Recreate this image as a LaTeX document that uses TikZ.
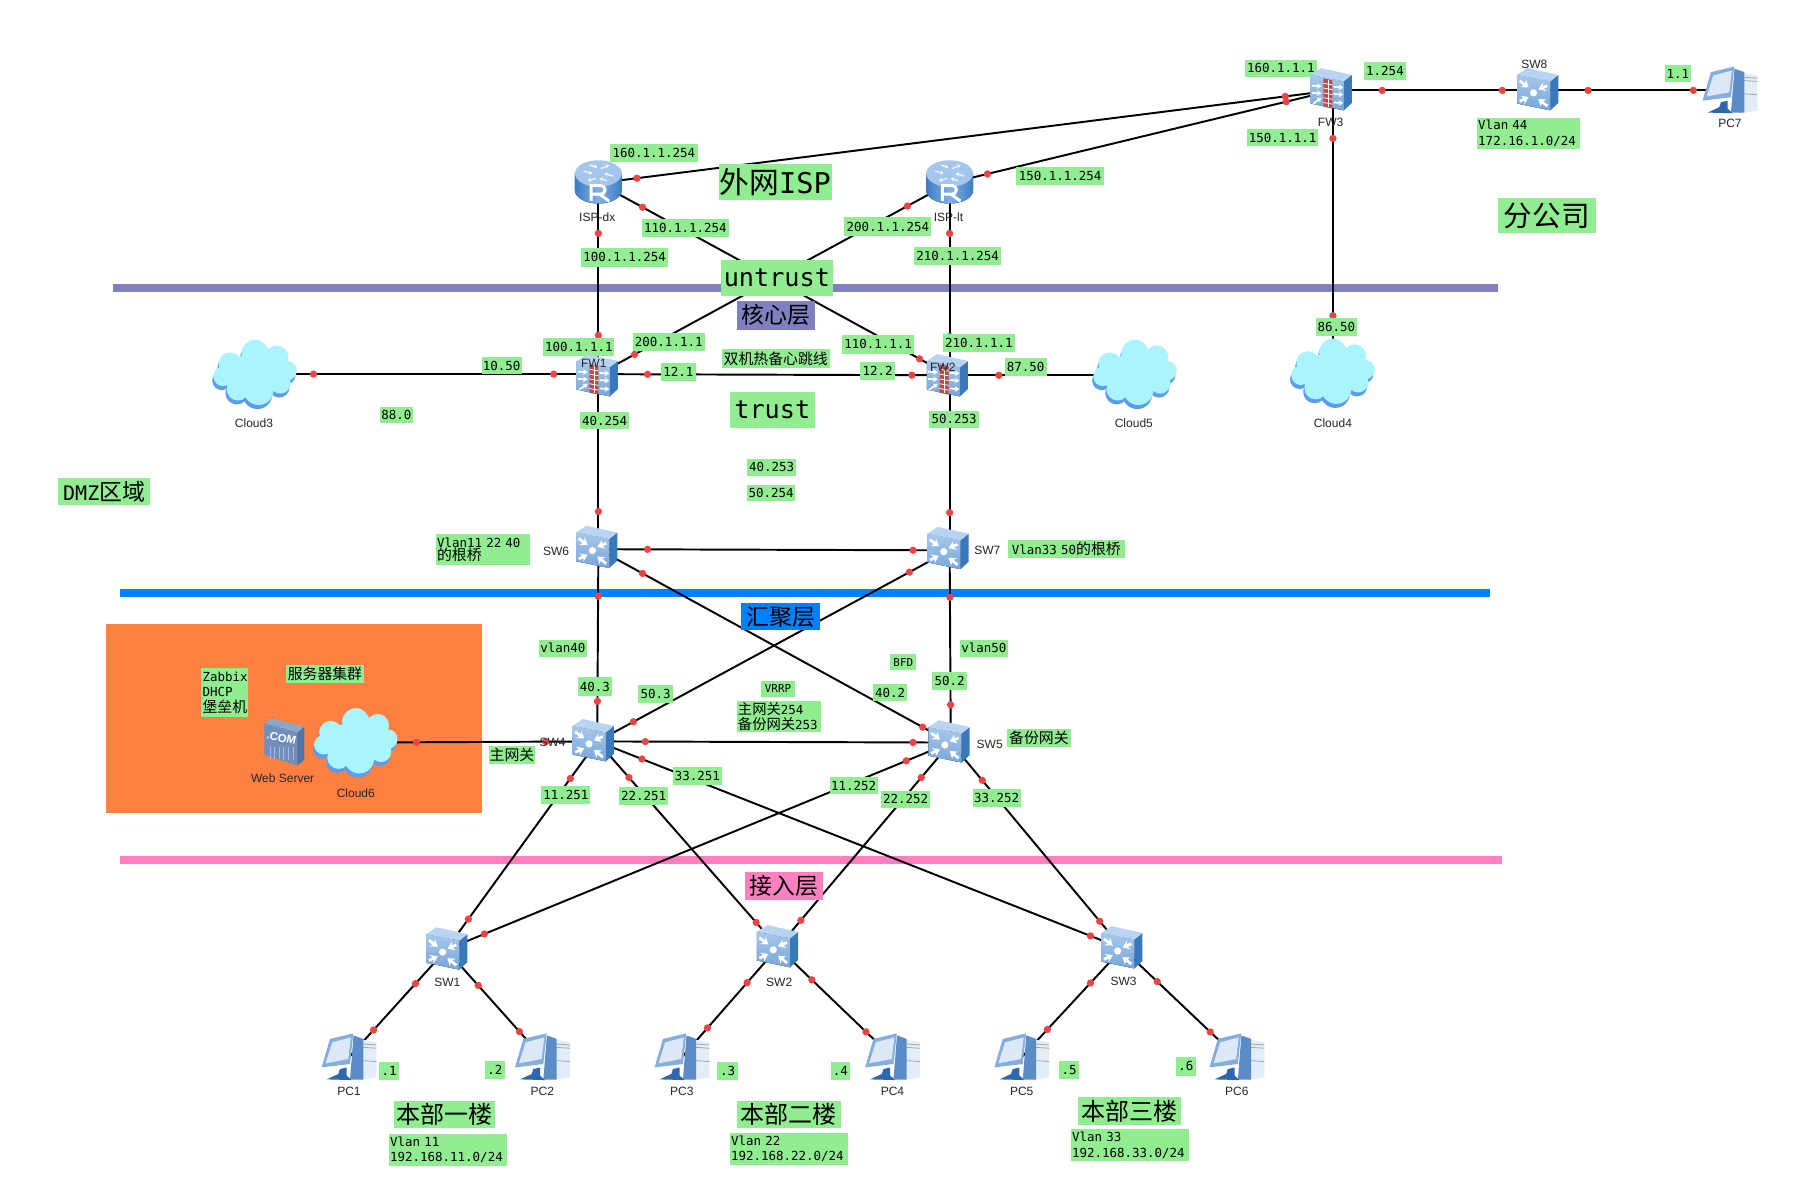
\documentclass[tikz,border=0pt]{standalone}
\usepackage{fontspec}
\setmainfont{Liberation Sans}
\newfontfamily\cjk{Noto Sans CJK SC}
\newfontfamily\monof{DejaVu Sans Mono}
\usetikzlibrary{calc,arrows.meta}
\definecolor{lgreen}{HTML}{90EE90}
\definecolor{dotred}{HTML}{EE4444}
\definecolor{barp}{HTML}{8080C0}
\definecolor{barb}{HTML}{0080FF}
\definecolor{barr}{HTML}{FF80C0}
\definecolor{orbg}{HTML}{FF8040}
\definecolor{frontA}{HTML}{A6C8EC}
\definecolor{frontB}{HTML}{7AA6DA}
\definecolor{sideC}{HTML}{3A78BC}
\definecolor{topC}{HTML}{B8D4F2}
\definecolor{rtmid}{HTML}{80B0E6}
\definecolor{rtedge}{HTML}{3F7CC4}
\definecolor{rttop}{HTML}{A4C6EC}
\definecolor{pcframe}{HTML}{86AEDC}
\definecolor{pcscreen}{HTML}{DCE8F8}
\definecolor{pcdark}{HTML}{5C8CC8}
\definecolor{pclight}{HTML}{E2EDF9}
\definecolor{pcfoot}{HTML}{2F66B0}
\definecolor{cloudc}{HTML}{A8F4FF}
\definecolor{clouds}{HTML}{5C9CEC}
\definecolor{brick}{HTML}{C04848}
\definecolor{webf}{HTML}{6F8FB8}
\definecolor{webs}{HTML}{4D76A8}
\definecolor{webt}{HTML}{8AA6C8}
\tikzset{
  dev/.style={inner sep=0pt,minimum size=34pt,outer sep=0pt},
  linkline/.style={line width=1.7pt,black},
  dotn/.style={circle,fill=dotred,inner sep=0pt,minimum size=6.4pt},
  glab/.style={fill=lgreen,inner sep=0pt,font=\monof\fontsize{10.9}{13.5}\selectfont,align=left},
  devlab/.style={inner sep=0pt,font=\fontsize{10.5}{12}\selectfont,text=black!85},
  boxbody/.pic={
    \fill[top color=frontA,bottom color=frontB] (-18,-12.5)--(11,-7)--(11,18.5)--(-18,12.5)--cycle;
    \fill[sideC] (11,-7)--(18,-12.5)--(18,12)--(11,18.5)--cycle;
    \fill[topC] (-18,-12.5)--(-9,-18.5)--(18,-12.5)--(11,-7)--cycle;
  },
  swicon/.pic={
    \pic {boxbody};
    \draw[white,line width=2.4pt,-{Stealth[length=6pt,width=8pt]}] (-15,-7)--(-7.5,-1.5);
    \draw[white,line width=2.4pt,-{Stealth[length=6pt,width=8pt]}] (8,-3)--(0.5,0);
    \draw[white,line width=2.4pt,-{Stealth[length=6pt,width=8pt]}] (-15,10)--(-7.5,6.5);
    \draw[white,line width=2.4pt,-{Stealth[length=6pt,width=8pt]}] (8,14)--(0.5,8);
    \fill[white] (-3.5,3) circle (3);
  },
  fwicon/.pic={
    \pic {boxbody};
    \foreach \b in {-3,3}{\draw[white,line width=1.5pt,-{Stealth[length=4pt,width=5pt]}] (-16,\b)--(-8,\b+.5);}
    \draw[white,line width=1.5pt,-{Stealth[length=4pt,width=5pt]}] (-15,12)--(-8,7);
    \foreach \b in {-2,4,11}{\draw[white,line width=1.5pt,-{Stealth[length=4pt,width=5pt]}] (2,\b)--(10,\b+.5);}
    \fill[brick] (-6.5,-9)--(1,-7.5)--(1,16)--(-6.5,14.5)--cycle;
    \foreach \y in {-5,-1,...,12}{\draw[white,line width=.7pt] (-6.5,\y)--(1,\y+1.4);}
    \draw[white,line width=.7pt] (-2.7,-8)--(-2.7,15);
  },
  rticon/.pic={
    \fill[left color=rtedge,right color=rtedge,middle color=rtmid] (-19.5,-7)--(-19.5,7) arc[start angle=180,end angle=0,x radius=19.5,y radius=11]--(19.5,-7)--cycle;
    \fill[rttop] (0,-7) ellipse[x radius=19.5,y radius=11];
    \foreach \a/\b/\c/\d in {-12/-9/-5/-7, 12/-5/5/-7, -2/-3/-9/-1, 2/-11/9/-14, -7/-14/-1/-12, 7/-1/1/-3}{\draw[white,opacity=.75,line width=1.3pt,-{Stealth[length=3pt,width=4pt]}] (\a,\b)--(\c,\d);}
    \draw[white,line width=2.6pt,line join=miter] (-6,16)--(-6,3)--(2,3) arc[start angle=-90,end angle=90,radius=3.6]--(-6,10.2) (1,10.2)--(9,16);
  },
  pcicon/.pic={
    \fill[pclight] (8,-15)--(24,-12)--(24,18.7)--(8,21)--cycle;
    \foreach \y in {-10.5,-7.6,4}{\draw[gray!70,line width=.7pt] (12.5,\y)--(24,\y+.8);}
    \fill[pcdark] (4,-18)--(12.5,-15)--(12.5,20.5)--(.9,20.5)--cycle;
    \fill[pcfoot] (-7.9,11.4)--(-2,10)--(-2,17)--(2.3,21)--(-19.5,20.4)--(-9.3,15.7)--cycle;
    \fill[pcframe] (-16.6,-15)--(3.8,-19.8)--(.9,7)--(-23.9,9.9)--cycle;
    \fill[pcscreen] (-14.6,-12)--(1.7,-16.3)--(-.6,2.6)--(-20.4,6.4)--cycle;
  },
  cloudicon/.pic={
    \begin{scope}[shift={(-1,3.5)}]
      \fill[clouds] (0,0) ellipse[x radius=26,y radius=18] (-22,-9) circle (10) (0,-18) circle (12) (19,-15) circle (10) (28,-3) circle (8.5) (22,8) circle (9) (3,14) circle (13) (-15,13) circle (10) (-28,2) circle (8.5);
    \end{scope}
    \fill[cloudc] (0,0) ellipse[x radius=26,y radius=18] (-22,-9) circle (10) (0,-18) circle (12) (19,-15) circle (10) (28,-3) circle (8.5) (22,8) circle (9) (3,14) circle (13) (-15,13) circle (10) (-28,2) circle (8.5);
  },
}
\newcommand{\lnk}[4]{%
  \draw[linkline] (#1.center)--(#2.center);
  \node[dotn] (#1-#2-a) at ($(#1.center)!#3pt!(#2.center)$) {};
  \node[dotn] (#1-#2-b) at ($(#2.center)!#4pt!(#1.center)$) {};
}
\newcommand{\lab}[6]{%
  \pgfmathsetmacro{\cxv}{(#2+#4)/2}\pgfmathsetmacro{\cyv}{(#3+#5)/2}%
  \pgfmathsetmacro{\wv}{#4-#2}\pgfmathsetmacro{\hv}{#5-#3}%
  \node[glab,minimum width=\wv pt,minimum height=\hv pt,text width=\wv pt,align=center] (#1) at (\cxv,\cyv) {#6};%
}
\newcommand{\labl}[6]{%
  \pgfmathsetmacro{\cxv}{(#2+#4)/2}\pgfmathsetmacro{\cyv}{(#3+#5)/2}%
  \pgfmathsetmacro{\wv}{#4-#2}\pgfmathsetmacro{\hv}{#5-#3}%
  \node[glab,minimum width=\wv pt,minimum height=\hv pt,text width=\wv pt-2pt,align=left] (#1) at (\cxv,\cyv) {#6};%
}
\newcommand{\bigc}[1]{\cjk\fontsize{#1}{#1}\selectfont}
\begin{document}
\begin{tikzpicture}[x=1pt,y=-1pt]
\useasboundingbox (0,0) rectangle (1568,1045);
\fill[white] (0,0) rectangle (1568,1045);
% regions and bars
\fill[orbg] (93,545) rectangle (421,711);
\fill[barp] (99,248) rectangle (1309,255.5);
\fill[barb] (105,515) rectangle (1302,522);
\fill[barr] (105,748) rectangle (1313,755);
% device anchors
\node[dev] (ispdx) at (523,160) {};
\node[dev] (isplt) at (830,160) {};
\node[dev] (fw1) at (523,327) {};
\node[dev] (fw2) at (830,328) {};
\node[dev] (fw3) at (1165,79) {};
\node[dev] (sw8) at (1345,79) {};
\node[dev] (pc7) at (1512,79) {};
\node[dev] (sw6) at (523,480) {};
\node[dev] (sw7) at (830,481) {};
\node[dev] (sw4) at (522,648) {};
\node[dev] (sw5) at (831,649) {};
\node[dev] (sw1) at (390,830) {};
\node[dev] (sw2) at (680,828) {};
\node[dev] (sw3) at (981,829) {};
\node[dev] (pc1) at (305,924) {};
\node[dev] (pc2) at (474,924) {};
\node[dev] (pc3) at (596,924) {};
\node[dev] (pc4) at (780,924) {};
\node[dev] (pc5) at (893,924) {};
\node[dev] (pc6) at (1081,924) {};
\node[dev] (cloud3) at (222,327) {};
\node[dev] (cloud5) at (992,328) {};
\node[dev] (cloud4) at (1165,326) {};
\node[dev] (cloud6) at (311,649) {};
% links
\lnk{ispdx}{fw3}{34}{42}
\lnk{isplt}{fw3}{34}{42}
\lnk{ispdx}{fw2}{44}{30}
\lnk{isplt}{fw1}{42}{36}
\lnk{ispdx}{fw1}{44}{34}
\lnk{isplt}{fw2}{44}{34}
\lnk{fw3}{cloud4}{42}{50}
\lnk{fw3}{sw8}{43}{32}
\lnk{sw8}{pc7}{43}{32}
\lnk{cloud3}{fw1}{52}{39}
\lnk{fw1}{fw2}{43}{33}
\lnk{fw2}{cloud5}{43}{20}
\lnk{fw1}{sw6}{39}{33}
\lnk{fw2}{sw7}{38}{33}
\lnk{sw6}{sw7}{43}{32}
\lnk{sw6}{sw4}{41}{35}
\lnk{sw7}{sw5}{41}{33}
\lnk{sw6}{sw5}{44}{28}
\lnk{sw7}{sw4}{40}{36}
\lnk{sw4}{sw5}{42}{33}
\lnk{sw4}{cloud6}{45}{53}
\lnk{sw4}{sw1}{40}{33}
\lnk{sw4}{sw2}{42}{29}
\lnk{sw4}{sw3}{42}{30}
\lnk{sw5}{sw1}{42}{36}
\lnk{sw5}{sw2}{40}{31}
\lnk{sw5}{sw3}{43}{31}
\lnk{sw1}{pc1}{40}{32}
\lnk{sw1}{pc2}{42}{30}
\lnk{sw2}{pc3}{41}{34}
\lnk{sw2}{pc4}{41}{32}
\lnk{sw3}{pc5}{41}{33}
\lnk{sw3}{pc6}{42}{32}
% green labels
\lab{l1}{1088}{52}{1151}{67}{160.1.1.1}
\lab{l2}{1192}{54}{1229}{70}{1.254}
\labl{l3}{1291}{103}{1381}{130}{Vlan 44\\172.16.1.0/24}
\lab{l4}{1455}{57}{1478}{72}{1.1}
\lab{l5}{1090}{113}{1152}{128}{150.1.1.1}
\lab{l6}{533}{126}{610}{142}{160.1.1.254}
\lab{l7}{628}{143}{727}{175}{\bigc{26}外网\monof\fontsize{25}{25}\selectfont ISP}
\lab{l8}{561}{191}{637}{207}{110.1.1.254}
\lab{l9}{738}{190}{814}{206}{200.1.1.254}
\lab{l10}{888}{146}{965}{162}{150.1.1.254}
\lab{l11}{508}{217}{584}{233}{100.1.1.254}
\lab{l12}{799}{216}{875}{232}{210.1.1.254}
\lab{l13}{630}{227}{728}{259}{\fontsize{22}{22}\selectfont untrust}
\node[inner sep=0pt,fill=barp,minimum width=68pt,minimum height=25pt] (l14) at (678,275.5) {\bigc{20}核心层};
\lab{l15}{475}{295}{537}{311}{100.1.1.1}
\lab{l16}{553}{291}{616}{307}{200.1.1.1}
\lab{l17}{736}{293}{799}{309}{110.1.1.1}
\lab{l18}{824}{292}{887}{308}{210.1.1.1}
\lab{l19}{421}{312}{456}{327}{10.50}
\lab{l20}{578}{317}{608}{333}{12.1}
\lab{l21}{752}{316}{782}{332}{12.2}
\lab{l22}{631}{305}{725}{322}{\bigc{13}双机热备心跳线}
\lab{l23}{878}{313}{915}{329}{87.50}
\lab{l24}{1150}{278}{1186}{294}{86.50}
\lab{l25}{638}{343}{712}{374}{\fontsize{22}{22}\selectfont trust}
\lab{l26}{332}{356}{361}{370}{88.0}
\lab{l27}{507}{360}{550}{375}{40.254}
\lab{l28}{812}{359}{856}{374}{50.253}
\lab{l29}{653}{401}{696}{416}{40.253}
\lab{l30}{653}{424}{695}{438}{50.254}
\lab{l31}{51}{418}{131}{441}{\fontsize{17.5}{17.5}\selectfont DMZ{\bigc{20}区域}}
\labl{l32}{381}{467}{463}{494}{Vlan11 22 40\\[-1.5pt]{\bigc{13}的根桥}}
\lab{l33}{881}{472}{983}{488}{Vlan33 50{\bigc{13}的根桥}}
\node[inner sep=0pt,fill=barb,minimum width=69pt,minimum height=24pt] (l34) at (682.5,539) {\bigc{20}汇聚层};
\lab{l35}{471}{559}{513}{574}{vlan40}
\lab{l36}{505}{592}{535}{608}{40.3}
\lab{l37}{558}{599}{588}{614}{50.3}
\lab{l38}{778}{572}{801}{586}{\fontsize{9.5}{10}\selectfont BFD}
\lab{l39}{839}{559}{881}{574}{vlan50}
\lab{l40}{815}{587}{845}{603}{50.2}
\lab{l41}{763}{598}{793}{613}{40.2}
\lab{l42}{665}{595}{695}{609}{\fontsize{9.5}{10}\selectfont VRRP}
\labl{l43}{644}{613}{718}{640}{{\bigc{12.5}主网关}254\\{\bigc{12.5}备份网关}253}
\lab{l44}{880}{637}{936}{653}{\bigc{13}备份网关}
\lab{l45}{427}{652}{468}{668}{\bigc{13}主网关}
\lab{l46}{250}{581}{318}{597}{\bigc{13}服务器集群}
\labl{l47}{176}{584}{217}{627}{Zabbix\\DHCP\\{\bigc{13}堡垒机}}
\lab{l48}{588}{670}{631}{686}{33.251}
\lab{l49}{473}{687}{516}{703}{11.251}
\lab{l50}{541}{688}{584}{704}{22.251}
\lab{l51}{725}{679}{767}{694}{11.252}
\lab{l52}{770}{691}{813}{706}{22.252}
\lab{l53}{850}{690}{892}{705}{33.252}
\node[inner sep=0pt,fill=barr,minimum width=68pt,minimum height=25pt] (l54) at (685,774.5) {\bigc{20}接入层};
\lab{l55}{331}{928}{349}{944}{.1}
\lab{l56}{424}{927}{441}{943}{.2}
\lab{l57}{627}{928}{645}{944}{.3}
\lab{l58}{726}{928}{743}{944}{.4}
\lab{l59}{926}{927}{943}{943}{.5}
\lab{l60}{1028}{924}{1045}{940}{.6}
\lab{l61}{344}{962}{433}{986}{\bigc{21}本部一楼}
\labl{l62}{340}{991}{443}{1019}{Vlan 11\\192.168.11.0/24}
\lab{l63}{644}{962}{735}{986}{\bigc{21}本部二楼}
\labl{l64}{638}{990}{741}{1018}{Vlan 22\\192.168.22.0/24}
\lab{l65}{942}{959}{1032}{983}{\bigc{21}本部三楼}
\labl{l66}{936}{987}{1039}{1015}{Vlan 33\\192.168.33.0/24}
\lab{l67}{1309}{173}{1395}{204}{\bigc{25}分公司}
% icons
\pic[scale=1.05] at (523,159) {rticon};
\pic[scale=1.05] at (830,159) {rticon};
\pic[scale=1.05] at (522,328) {fwicon};
\pic[scale=1.05] at (828,328) {fwicon};
\pic[scale=1.05] at (1163.5,78) {fwicon};
\pic[scale=1.05] at (1344,78) {swicon};
\pic[scale=1.05] at (521.5,478) {swicon};
\pic[scale=1.05] at (828.5,479) {swicon};
\pic[scale=1.05] at (518.5,647) {swicon};
\pic[scale=1.05] at (829.5,648) {swicon};
\pic[scale=1.05] at (390.5,829) {swicon};
\pic[scale=1.05] at (679.5,827) {swicon};
\pic[scale=1.05] at (980.5,828) {swicon};
\pic at (305,923) {pcicon};
\pic at (474,923) {pcicon};
\pic at (596,923) {pcicon};
\pic at (780,923) {pcicon};
\pic at (893,923) {pcicon};
\pic at (1081,923) {pcicon};
\pic at (1512,78) {pcicon};
\pic at (223,327) {cloudicon};
\pic at (992,327) {cloudicon};
\pic at (1165,326) {cloudicon};
\pic at (311,649) {cloudicon};
% web server
\fill[webf] (231,632)--(260,640)--(260,669)--(231,660)--cycle;
\fill[webs] (260,640)--(266,635)--(266,664)--(260,669)--cycle;
\fill[webt] (231,632)--(237,628)--(266,635)--(260,640)--cycle;
\node[inner sep=0pt,text=white,font=\bfseries\fontsize{10}{10}\selectfont,rotate=-12] (webtxt) at (246,645) {.COM};
\foreach \x in {236,240,...,256}{\draw[white!70!blue,line width=.7pt] (\x,652+\x/20-11.5)--(\x,663+\x/20-11.5);}
% device labels
\node[devlab] (n1) at (1341,56) {SW8};
\node[devlab] (n2) at (1163,107) {FW3};
\node[devlab] (n3) at (1512,108) {PC7};
\node[devlab] (n4) at (522,190) {ISP-dx};
\node[devlab] (n5) at (829,190) {ISP-lt};
\node[devlab] (n6) at (519,318) {FW1};
\node[devlab] (n7) at (824,321) {FW2};
\node[devlab] (n8) at (222,370) {Cloud3};
\node[devlab] (n9) at (991,370) {Cloud5};
\node[devlab] (n10) at (1165,370) {Cloud4};
\node[devlab] (n11) at (311,693) {Cloud6};
\node[devlab] (n12) at (247,680) {Web Server};
\node[devlab] (n13) at (486,482) {SW6};
\node[devlab] (n14) at (863,481) {SW7};
\node[devlab] (n15) at (483,649) {SW4};
\node[devlab] (n16) at (865,651) {SW5};
\node[devlab] (n17) at (391,859) {SW1};
\node[devlab] (n18) at (681,859) {SW2};
\node[devlab] (n19) at (982,858) {SW3};
\node[devlab] (n20) at (305,954) {PC1};
\node[devlab] (n21) at (474,954) {PC2};
\node[devlab] (n22) at (596,954) {PC3};
\node[devlab] (n23) at (780,954) {PC4};
\node[devlab] (n24) at (893,954) {PC5};
\node[devlab] (n25) at (1081,954) {PC6};
\end{tikzpicture}
\end{document}
